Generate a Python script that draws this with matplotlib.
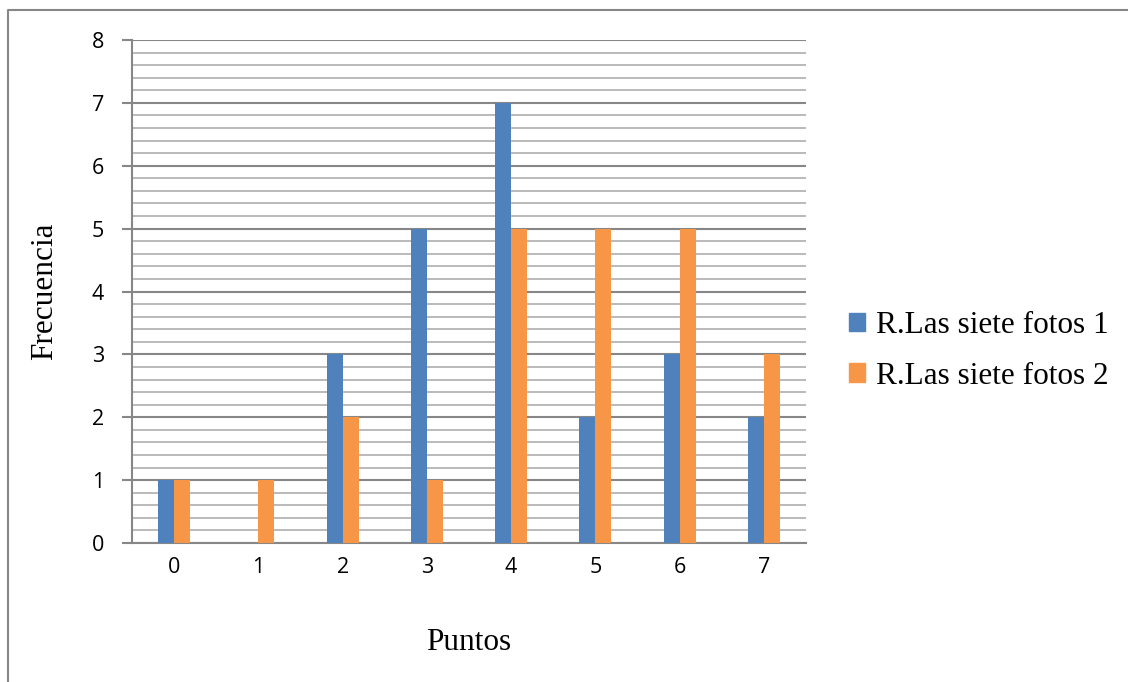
import matplotlib.pyplot as plt
from matplotlib.patches import Patch
from matplotlib.lines import Line2D
from matplotlib.ticker import MultipleLocator
import numpy as np

# Frecuencia de puntos por ronda
puntos = [0, 1, 2, 3, 4, 5, 6, 7]
fotos_1 = [1, 0, 3, 5, 7, 2, 3, 2]
fotos_2 = [1, 1, 2, 1, 5, 5, 5, 3]
series_names = ["R.Las siete fotos 1", "R.Las siete fotos 2"]

BLUE = "#4F81BD"
ORANGE = "#F79646"
MAJOR = "#878787"
MINOR = "#B4B4B4"
SERIF = "Liberation Serif"
SANS = "Open Sans"

W, H = 1128, 682
fig = plt.figure(figsize=(W / 100, H / 100), dpi=100)

# outer chart border (top and left edges visible)
fig.add_artist(Line2D([8 / W, 8 / W, 1], [0, 1 - 10 / H, 1 - 10 / H],
                      transform=fig.transFigure, color=MAJOR, lw=1.5))

ax = fig.add_axes([132 / W, 1 - 543 / H, 674 / W, 503 / H])

x = np.arange(len(puntos))
bw = 0.19
ax.bar(x - bw / 2, fotos_1, width=bw, color=BLUE, zorder=3)
ax.bar(x + bw / 2, fotos_2, width=bw, color=ORANGE, zorder=3)

ax.set_xlim(-0.5, len(puntos) - 0.5)
ax.set_ylim(0, 8)
ax.yaxis.set_major_locator(MultipleLocator(1))
ax.yaxis.set_minor_locator(MultipleLocator(0.2))
ax.grid(which="major", axis="y", color=MAJOR, lw=1.5, zorder=1)
ax.grid(which="minor", axis="y", color=MINOR, lw=1.3, zorder=1)

ax.set_xticks(x)
ax.set_xticklabels([str(p) for p in puntos], fontfamily=SANS, fontsize=15.5)
ax.set_yticks(range(0, 9))
ax.set_yticklabels([str(v) for v in range(0, 9)], fontfamily=SANS, fontsize=15.5)
ax.tick_params(axis="x", length=0, pad=10)
ax.tick_params(axis="y", which="major", length=7, width=1.5, color=MAJOR, pad=13)
ax.tick_params(axis="y", which="minor", length=0)

for side in ["top", "right"]:
    ax.spines[side].set_visible(False)
for side in ["left", "bottom"]:
    ax.spines[side].set_color(MAJOR)
    ax.spines[side].set_linewidth(1.5)

ax.set_xlabel("Puntos", fontfamily=SERIF, fontsize=22.5, va="center")
ax.xaxis.set_label_coords(0.5, -100 / 503)
ax.set_ylabel("Frecuencia", fontfamily=SERIF, fontsize=22.5, va="center")
ax.yaxis.set_label_coords(-(132 - 45) / 674, 0.5)

handles = [Patch(color=BLUE), Patch(color=ORANGE)]
fig.legend(handles, series_names, loc="center left", bbox_to_anchor=(849 / W, 1 - 351 / H),
           frameon=False, prop={"family": SERIF, "size": 22.5},
           borderpad=0, borderaxespad=0,
           handlelength=0.52, handleheight=0.52, handletextpad=0.33, labelspacing=0.68)

fig.savefig("out.png", dpi=100)
